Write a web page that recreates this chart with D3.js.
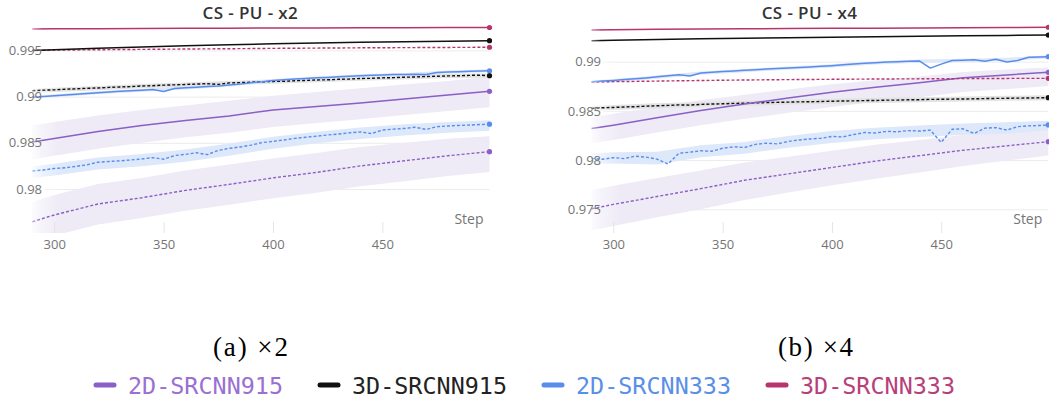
<!DOCTYPE html>
<html>
<head>
<meta charset="utf-8">
<script src="https://cdn.jsdelivr.net/npm/d3@7"></script>
<style>
  body { margin: 0; background: #fff; }
  svg text { font-family: "Open Sans", "Noto Sans", sans-serif; }
</style>
</head>
<body>
<svg id="chart" width="1049" height="403"></svg>
<script>
// steps used by the smooth curves, and the finer grid for the noisy ones
var steps = [290, 300, 320, 340, 360, 380, 400, 420, 440, 460, 480, 499];
var fineSteps = [290, 295, 300, 305, 310, 315, 320, 325, 330, 335, 340, 345, 350, 355, 360, 365, 370, 375,
  380, 385, 390, 395, 400, 405, 410, 415, 420, 425, 430, 435, 440, 445, 450, 455, 460, 465, 470, 475,
  480, 485, 490, 495, 499];

var seriesNames = ["2D-SRCNN915", "3D-SRCNN915", "2D-SRCNN333", "3D-SRCNN333"];
var xTicks = [300, 350, 400, 450];
var yTicksX2 = [0.98, 0.985, 0.99, 0.995];
var yTicksX4 = [0.975, 0.98, 0.985, 0.99];

// ---- x2 panel ----
var x2_3d333_solid = [0.99732, 0.99733, 0.99735, 0.99737, 0.99739, 0.99740, 0.99742, 0.99743, 0.99745, 0.99746, 0.99747, 0.99748];
var x2_3d333_dash  = [0.99501, 0.99503, 0.99507, 0.99511, 0.99515, 0.99518, 0.99522, 0.99525, 0.99528, 0.99530, 0.99532, 0.99534];
var x2_3d915_solid = [0.99500, 0.99508, 0.99523, 0.99537, 0.99550, 0.99561, 0.99571, 0.99579, 0.99587, 0.99594, 0.99600, 0.99605];
var x2_2d915_solid = [0.98509, 0.98547, 0.98622, 0.98687, 0.98741, 0.98790, 0.98855, 0.98893, 0.98931, 0.98974, 0.99017, 0.99057];
var x2_2d915_dash  = [0.97646, 0.97719, 0.97838, 0.97905, 0.97985, 0.98050, 0.98120, 0.98180, 0.98250, 0.98305, 0.98360, 0.98404];
var x2_3d915_dash = [0.99064, 0.99070, 0.99073, 0.99080, 0.99084, 0.99090, 0.99093, 0.99100, 0.99104, 0.99108,
  0.99115, 0.99118, 0.99124, 0.99127, 0.99131, 0.99136, 0.99139, 0.99132, 0.99148, 0.99151,
  0.99156, 0.99160, 0.99164, 0.99166, 0.99172, 0.99175, 0.99180, 0.99182, 0.99187, 0.99190,
  0.99196, 0.99198, 0.99203, 0.99205, 0.99210, 0.99212, 0.99218, 0.99220, 0.99224, 0.99226,
  0.99230, 0.99232, 0.99226];
var x2_2d333_solid = [0.98992, 0.99000, 0.99010, 0.99018, 0.99025, 0.99033, 0.99042, 0.99050, 0.99057, 0.99063,
  0.99070, 0.99076, 0.99055, 0.99088, 0.99095, 0.99102, 0.99110, 0.99115, 0.99125, 0.99135,
  0.99150, 0.99160, 0.99175, 0.99182, 0.99190, 0.99196, 0.99203, 0.99208, 0.99214, 0.99220,
  0.99226, 0.99230, 0.99234, 0.99238, 0.99240, 0.99243, 0.99240, 0.99262, 0.99266, 0.99270,
  0.99274, 0.99277, 0.99280];
var x2_2d333_dash = [0.98195, 0.98205, 0.98222, 0.98230, 0.98245, 0.98262, 0.98290, 0.98298, 0.98305, 0.98314,
  0.98325, 0.98340, 0.98322, 0.98362, 0.98375, 0.98392, 0.98372, 0.98418, 0.98440, 0.98455,
  0.98475, 0.98502, 0.98515, 0.98530, 0.98548, 0.98560, 0.98572, 0.98585, 0.98595, 0.98608,
  0.98618, 0.98600, 0.98638, 0.98648, 0.98655, 0.98668, 0.98645, 0.98675, 0.98682, 0.98688,
  0.98692, 0.98698, 0.98702];
// min / max shading (on the coarse steps)
var x2_2d915_solid_hi = [0.98690, 0.98725, 0.98795, 0.98855, 0.98905, 0.98955, 0.99010, 0.99050, 0.99090, 0.99130, 0.99170, 0.99215];
var x2_2d915_solid_lo = [0.98320, 0.98360, 0.98435, 0.98500, 0.98560, 0.98610, 0.98670, 0.98715, 0.98755, 0.98800, 0.98845, 0.98885];
var x2_2d915_dash_hi  = [0.97860, 0.97935, 0.98055, 0.98120, 0.98200, 0.98265, 0.98330, 0.98390, 0.98455, 0.98500, 0.98545, 0.98570];
var x2_2d915_dash_lo  = [0.97420, 0.97495, 0.97615, 0.97685, 0.97765, 0.97830, 0.97900, 0.97960, 0.98030, 0.98085, 0.98140, 0.98185];
var x2_2d333_dash_hi  = [0.98245, 0.98272, 0.98340, 0.98378, 0.98428, 0.98492, 0.98565, 0.98620, 0.98665, 0.98700, 0.98725, 0.98745];
var x2_2d333_dash_lo  = [0.98120, 0.98145, 0.98210, 0.98245, 0.98295, 0.98360, 0.98435, 0.98495, 0.98540, 0.98580, 0.98610, 0.98630];
var x2_3d915_dash_hi  = [0.99086, 0.99095, 0.99115, 0.99137, 0.99153, 0.99170, 0.99186, 0.99202, 0.99218, 0.99232, 0.99246, 0.99250];
var x2_3d915_dash_lo  = [0.99040, 0.99049, 0.99069, 0.99091, 0.99107, 0.99124, 0.99140, 0.99156, 0.99172, 0.99186, 0.99200, 0.99204];
var x2_2d333_solid_hi = [0.99008, 0.99026, 0.99058, 0.99086, 0.99111, 0.99141, 0.99190, 0.99218, 0.99241, 0.99256, 0.99282, 0.99296];
var x2_2d333_solid_lo = [0.98975, 0.98993, 0.99025, 0.99053, 0.99078, 0.99108, 0.99158, 0.99186, 0.99209, 0.99223, 0.99249, 0.99263];

// ---- x4 panel ----
var x4_3d333_solid = [0.99322, 0.99325, 0.99329, 0.99332, 0.99335, 0.99337, 0.99339, 0.99341, 0.99343, 0.99345, 0.99347, 0.99350];
var x4_3d915_solid = [0.99213, 0.99218, 0.99225, 0.99232, 0.99238, 0.99243, 0.99249, 0.99254, 0.99259, 0.99263, 0.99267, 0.99271];
var x4_3d333_dash  = [0.98793, 0.98797, 0.98803, 0.98809, 0.98814, 0.98818, 0.98821, 0.98824, 0.98826, 0.98828, 0.98830, 0.98831];
var x4_2d915_solid = [0.98320, 0.98355, 0.98430, 0.98505, 0.98570, 0.98630, 0.98690, 0.98740, 0.98785, 0.98838, 0.98866, 0.98892];
var x4_2d915_dash  = [0.97505, 0.97550, 0.97630, 0.97710, 0.97795, 0.97860, 0.97925, 0.97990, 0.98045, 0.98100, 0.98145, 0.98187];
var x4_2d333_solid = [0.98797, 0.98803, 0.98810, 0.98818, 0.98826, 0.98835, 0.98846, 0.98856, 0.98868, 0.98855,
  0.98886, 0.98893, 0.98900, 0.98906, 0.98912, 0.98918, 0.98925, 0.98930, 0.98936, 0.98941,
  0.98947, 0.98953, 0.98960, 0.98968, 0.98976, 0.98985, 0.98990, 0.98996, 0.99000, 0.99004,
  0.99008, 0.98935, 0.98975, 0.99012, 0.99016, 0.99020, 0.99005, 0.99025, 0.98998, 0.99012,
  0.99046, 0.99049, 0.99051];
var x4_3d915_dash = [0.98526, 0.98532, 0.98535, 0.98540, 0.98543, 0.98548, 0.98552, 0.98556, 0.98561, 0.98559,
  0.98566, 0.98570, 0.98572, 0.98576, 0.98578, 0.98582, 0.98584, 0.98587, 0.98589, 0.98592,
  0.98593, 0.98596, 0.98598, 0.98601, 0.98602, 0.98605, 0.98606, 0.98609, 0.98610, 0.98613,
  0.98614, 0.98617, 0.98618, 0.98620, 0.98621, 0.98623, 0.98625, 0.98627, 0.98628, 0.98630,
  0.98631, 0.98633, 0.98634];
var x4_2d333_dash = [0.98018, 0.98008, 0.98025, 0.98015, 0.98040, 0.98030, 0.98010, 0.97960, 0.98070, 0.98080,
  0.98095, 0.98090, 0.98120, 0.98135, 0.98128, 0.98160, 0.98172, 0.98165, 0.98190, 0.98205,
  0.98215, 0.98222, 0.98240, 0.98236, 0.98260, 0.98280, 0.98275, 0.98292, 0.98288, 0.98300,
  0.98295, 0.98305, 0.98180, 0.98313, 0.98318, 0.98270, 0.98325, 0.98330, 0.98305, 0.98340,
  0.98348, 0.98352, 0.98357];
var x4_2d915_solid_hi = [0.98440, 0.98472, 0.98540, 0.98608, 0.98665, 0.98718, 0.98770, 0.98812, 0.98850, 0.98895, 0.98920, 0.98942];
var x4_2d915_solid_lo = [0.98170, 0.98205, 0.98280, 0.98355, 0.98420, 0.98480, 0.98540, 0.98592, 0.98638, 0.98692, 0.98722, 0.98752];
var x4_2d915_dash_hi  = [0.97695, 0.97740, 0.97818, 0.97895, 0.97975, 0.98035, 0.98095, 0.98155, 0.98205, 0.98255, 0.98290, 0.98310];
var x4_2d915_dash_lo  = [0.97285, 0.97330, 0.97420, 0.97500, 0.97595, 0.97670, 0.97745, 0.97810, 0.97875, 0.97940, 0.97995, 0.98047];
var x4_2d333_dash_hi  = [0.98070, 0.98080, 0.98085, 0.98150, 0.98185, 0.98245, 0.98295, 0.98330, 0.98352, 0.98372, 0.98385, 0.98400];
var x4_2d333_dash_lo  = [0.97960, 0.97965, 0.97955, 0.98030, 0.98065, 0.98125, 0.98175, 0.98212, 0.98235, 0.98255, 0.98268, 0.98300];
var x4_3d915_dash_hi  = [0.98551, 0.98560, 0.98577, 0.98591, 0.98603, 0.98614, 0.98623, 0.98631, 0.98639, 0.98646, 0.98653, 0.98659];
var x4_3d915_dash_lo  = [0.98501, 0.98510, 0.98527, 0.98541, 0.98553, 0.98564, 0.98573, 0.98581, 0.98589, 0.98596, 0.98603, 0.98609];
var x4_2d333_solid_hi = [0.98812, 0.98825, 0.98861, 0.98901, 0.98927, 0.98951, 0.98975, 0.99005, 0.99023, 0.99031, 0.99040, 0.99066];
var x4_2d333_solid_lo = [0.98779, 0.98792, 0.98828, 0.98868, 0.98894, 0.98918, 0.98942, 0.98972, 0.98990, 0.98998, 0.99007, 0.99033];

// colours
var lineColors = ["#8a5fc6", "#111111", "#5a8cec", "#b8346e"];
var legendText = ["#9a70d2", "#222222", "#5a8fe8", "#b8407a"];
var bandColors = { purple: "#eeeaf6", blue: "#dde8fb", gray: "#e2e2e2" };

var panels = [
  {
    title: "CS - PU - x2", caption: "(a) ×2", yTicks: yTicksX2,
    xRange: [32.4, 489.5], yDomain: [0.98, 0.995], yRange: [189, 50.4], gridLeft: 44,
    bands: [
      { lo: x2_2d915_dash_lo, hi: x2_2d915_dash_hi, fill: bandColors.purple },
      { lo: x2_2d915_solid_lo, hi: x2_2d915_solid_hi, fill: bandColors.purple },
      { lo: x2_2d333_dash_lo, hi: x2_2d333_dash_hi, fill: bandColors.blue },
      { lo: x2_3d915_dash_lo, hi: x2_3d915_dash_hi, fill: bandColors.gray },
      { lo: x2_2d333_solid_lo, hi: x2_2d333_solid_hi, fill: bandColors.blue }
    ],
    lines: [
      { x: steps, v: x2_2d915_dash, c: 0, dash: true },
      { x: fineSteps, v: x2_2d333_dash, c: 2, dash: true },
      { x: steps, v: x2_2d915_solid, c: 0 },
      { x: fineSteps, v: x2_3d915_dash, c: 1, dash: true },
      { x: fineSteps, v: x2_2d333_solid, c: 2 },
      { x: steps, v: x2_3d333_dash, c: 3, dash: true },
      { x: steps, v: x2_3d915_solid, c: 1 },
      { x: steps, v: x2_3d333_solid, c: 3 }
    ]
  },
  {
    title: "CS - PU - x4", caption: "(b) ×4", yTicks: yTicksX4,
    xRange: [591.5, 1048.3], yDomain: [0.975, 0.99], yRange: [209.3, 61.7], gridLeft: 603,
    bands: [
      { lo: x4_2d915_dash_lo, hi: x4_2d915_dash_hi, fill: bandColors.purple },
      { lo: x4_2d915_solid_lo, hi: x4_2d915_solid_hi, fill: bandColors.purple },
      { lo: x4_2d333_dash_lo, hi: x4_2d333_dash_hi, fill: bandColors.blue },
      { lo: x4_3d915_dash_lo, hi: x4_3d915_dash_hi, fill: bandColors.gray },
      { lo: x4_2d333_solid_lo, hi: x4_2d333_solid_hi, fill: bandColors.blue }
    ],
    lines: [
      { x: steps, v: x4_2d915_dash, c: 0, dash: true },
      { x: fineSteps, v: x4_2d333_dash, c: 2, dash: true },
      { x: fineSteps, v: x4_3d915_dash, c: 1, dash: true },
      { x: steps, v: x4_2d915_solid, c: 0 },
      { x: steps, v: x4_3d333_dash, c: 3, dash: true },
      { x: fineSteps, v: x4_2d333_solid, c: 2 },
      { x: steps, v: x4_3d915_solid, c: 1 },
      { x: steps, v: x4_3d333_solid, c: 3 }
    ]
  }
];

var svg = d3.select("#chart");
var defs = svg.append("defs");

var fade = defs.append("linearGradient").attr("id", "fade");
fade.append("stop").attr("offset", "0").attr("stop-color", "#fff").attr("stop-opacity", 1);
fade.append("stop").attr("offset", "1").attr("stop-color", "#fff").attr("stop-opacity", 0);

var plotTop = 20, plotBottom = 233;

panels.forEach(function(p, pi) {
  var x = d3.scaleLinear().domain([290, 499]).range(p.xRange);
  var y = d3.scaleLinear().domain(p.yDomain).range(p.yRange);
  var g = svg.append("g");

  defs.append("clipPath").attr("id", "clip" + pi)
    .append("rect")
    .attr("x", p.xRange[0] - 2).attr("y", plotTop)
    .attr("width", p.xRange[1] - p.xRange[0] + 8).attr("height", plotBottom - plotTop);

  // horizontal grid
  var grid = g.append("g")
    .attr("transform", "translate(" + p.gridLeft + ",0)")
    .call(d3.axisLeft(y).tickValues(p.yTicks).tickSize(-(p.xRange[1] - p.gridLeft)).tickFormat(""));
  grid.select(".domain").remove();
  grid.selectAll("line").attr("stroke", "#ececec");

  var plot = g.append("g").attr("clip-path", "url(#clip" + pi + ")");

  // min/max shading
  var area = d3.area()
    .x(function(d) { return x(d.s); })
    .y0(function(d) { return y(d.lo); })
    .y1(function(d) { return y(d.hi); });
  p.bands.forEach(function(b) {
    var pts = steps.map(function(s, i) { return { s: s, lo: b.lo[i], hi: b.hi[i] }; });
    plot.append("path").attr("d", area(pts)).attr("fill", b.fill);
  });

  // left edge fade over the shading
  plot.append("rect")
    .attr("x", p.xRange[0] - 14).attr("y", plotTop)
    .attr("width", 44).attr("height", plotBottom - plotTop)
    .attr("fill", "url(#fade)");

  var line = d3.line()
    .x(function(d) { return x(d.s); })
    .y(function(d) { return y(d.v); });

  p.lines.forEach(function(l) {
    var pts = l.x.map(function(s, i) { return { s: s, v: l.v[i] }; });
    plot.append("path")
      .attr("d", line(pts))
      .attr("fill", "none")
      .attr("stroke", lineColors[l.c])
      .attr("stroke-width", l.dash ? 1.4 : 1.5)
      .attr("stroke-dasharray", l.dash ? "3,2" : null)
      .attr("stroke-linejoin", "round");
    var last = pts[pts.length - 1];
    plot.append("circle")
      .attr("cx", x(last.s)).attr("cy", y(last.v))
      .attr("r", 2.6).attr("fill", lineColors[l.c]);
  });

  // light fade on the very start of the lines
  plot.append("rect")
    .attr("x", p.xRange[0] - 4).attr("y", plotTop)
    .attr("width", 14).attr("height", plotBottom - plotTop)
    .attr("fill", "url(#fade)").attr("opacity", 0.6);

  // y labels
  var yLab = g.append("g")
    .attr("transform", "translate(" + p.gridLeft + ",0)")
    .call(d3.axisLeft(y).tickValues(p.yTicks).tickSize(0).tickPadding(2).tickFormat(function(d) { return String(d); }));
  yLab.select(".domain").remove();
  yLab.selectAll("text").attr("fill", "#757575").style("font-size", "13px");

  // x axis: short ticks + labels
  var xAx = g.append("g")
    .attr("transform", "translate(0," + (plotBottom - 11) + ")")
    .call(d3.axisBottom(x).tickValues(xTicks).tickSize(11).tickPadding(7));
  xAx.select(".domain").remove();
  xAx.selectAll("line").attr("stroke", "#e4e4e4");
  xAx.selectAll("text").attr("fill", "#757575").style("font-size", "13px");

  g.append("text")
    .attr("x", x(499) - 6).attr("y", 224)
    .attr("text-anchor", "end")
    .attr("fill", "#757575").style("font-size", "14px")
    .text("Step");

  g.append("text")
    .attr("x", p.xRange[0] + 218).attr("y", 19)
    .attr("text-anchor", "middle")
    .attr("fill", "#333").style("font-size", "17px").style("font-weight", 600)
    .style("letter-spacing", "0.4px")
    .text(p.title);

  g.append("text")
    .attr("x", p.xRange[0] + 218 + pi * 6).attr("y", 356)
    .attr("text-anchor", "middle")
    .attr("fill", "#000")
    .style("font-family", "'Liberation Serif', serif")
    .style("font-size", "27px")
    .attr("textLength", 75).attr("lengthAdjust", "spacing")
    .text(p.caption);
});

// legend
var legend = svg.append("g").attr("transform", "translate(94,385)");
seriesNames.forEach(function(name, i) {
  var item = legend.append("g").attr("transform", "translate(" + (i * 224) + ",0)");
  item.append("line")
    .attr("x1", 2).attr("x2", 20).attr("y1", 0).attr("y2", 0)
    .attr("stroke", lineColors[i]).attr("stroke-width", 5).attr("stroke-linecap", "round");
  item.append("text")
    .attr("x", 34).attr("y", 9)
    .attr("fill", legendText[i])
    .style("font-family", "'DejaVu Sans Mono', monospace")
    .style("font-size", "23px")
    .attr("textLength", 155).attr("lengthAdjust", "spacingAndGlyphs")
    .text(name);
});
</script>
</body>
</html>
